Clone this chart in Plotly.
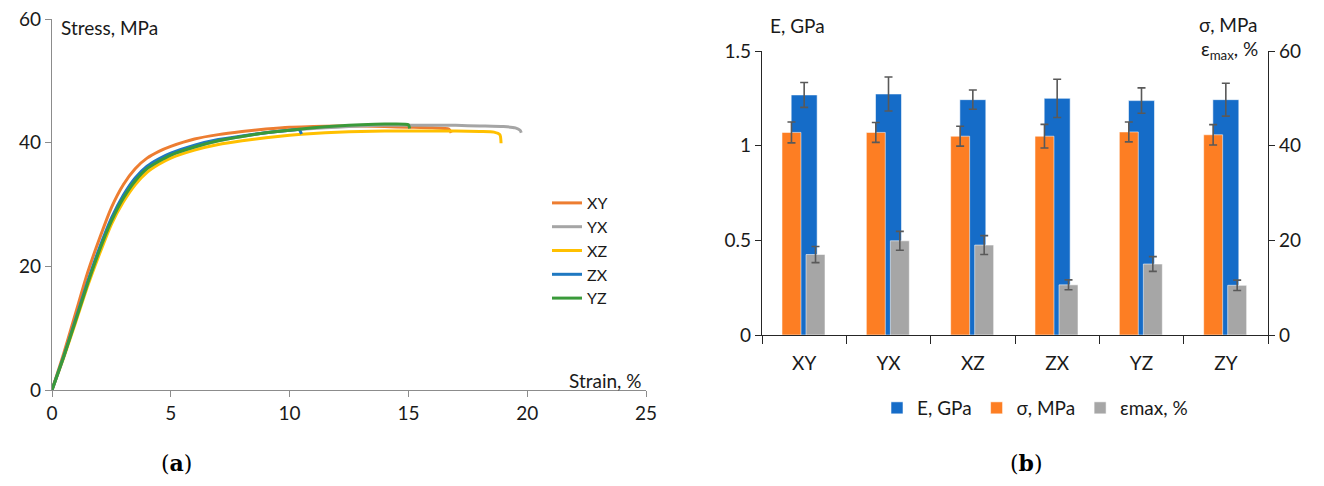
import plotly.graph_objects as go

# ---------------- data: panel (a) stress-strain curves ----------------
xy_strain = [0, 0.5, 1, 1.5, 2, 2.5, 3, 3.5, 4, 4.5, 5, 6, 7, 8, 9, 10, 11, 12, 13, 14, 15, 16, 16.7, 16.8]
xy_stress = [0, 6, 12.5, 19, 24.5, 29.5, 33.2, 35.8, 37.5, 38.6, 39.4, 40.6, 41.3, 41.8, 42.2, 42.5, 42.6, 42.7, 42.7, 42.6, 42.5, 42.4, 42.2, 41.6]

yx_strain = [0, 0.5, 1, 1.5, 2, 2.5, 3, 3.5, 4, 4.5, 5, 6, 7, 8, 9, 10, 11, 12, 13, 14, 15, 16, 17, 18, 19, 19.5, 19.7, 19.75]
yx_stress = [0, 5.5, 11.3, 17.2, 22.6, 27.3, 31, 33.8, 35.8, 37, 38, 39.3, 40.3, 41, 41.6, 42, 42.3, 42.5, 42.7, 42.8, 42.8, 42.8, 42.8, 42.7, 42.6, 42.4, 42.0, 41.6]

xz_strain = [0, 0.5, 1, 1.5, 2, 2.5, 3, 3.5, 4, 4.5, 5, 6, 7, 8, 9, 10, 11, 12, 13, 14, 15, 16, 17, 18, 18.6, 18.85, 18.9]
xz_stress = [0, 5.3, 11, 16.8, 22, 26.8, 30.4, 33.2, 35.2, 36.5, 37.5, 38.8, 39.7, 40.3, 40.8, 41.2, 41.5, 41.7, 41.8, 41.9, 41.9, 41.9, 41.9, 41.8, 41.7, 41.3, 39.9]

zx_strain = [0, 0.5, 1, 1.5, 2, 2.5, 3, 3.5, 4, 4.5, 5, 6, 7, 8, 9, 10, 10.4, 10.5]
zx_stress = [0, 5.5, 11.5, 17.5, 23, 27.8, 31.5, 34.3, 36.2, 37.4, 38.3, 39.6, 40.5, 41.1, 41.6, 42.0, 42.1, 41.4]

yz_strain = [0, 0.5, 1, 1.5, 2, 2.5, 3, 3.5, 4, 4.5, 5, 6, 7, 8, 9, 10, 11, 12, 13, 14, 15, 15.05]
yz_stress = [0, 5.5, 11.3, 17.2, 22.6, 27.3, 31, 33.8, 35.8, 37, 38, 39.3, 40.3, 41, 41.6, 42, 42.4, 42.7, 42.9, 43, 42.9, 42.3]

x_ticks_a = [0, 5, 10, 15, 20, 25]
y_ticks_a = [0, 20, 40, 60]

# ---------------- data: panel (b) bars ----------------
categories = ["XY", "YX", "XZ", "ZX", "YZ", "ZY"]
E_gpa = [1.268, 1.273, 1.243, 1.250, 1.238, 1.243]
E_err = [0.066, 0.090, 0.051, 0.101, 0.067, 0.087]
sigma_mpa = [42.8, 42.8, 42.0, 42.0, 42.9, 42.3]
sigma_err = [2.2, 2.1, 2.1, 2.5, 2.1, 2.15]
eps_max = [17.0, 19.9, 19.0, 10.6, 15.0, 10.5]
eps_err = [1.7, 2.0, 2.0, 1.05, 1.55, 1.1]

W, H = 1324, 486
FONT = "Lato"
TXT = "#1a1a1a"
FS = 19


def px(x):
    return x / W


def py(y):
    return (H - y) / H


fig = go.Figure()

curve_specs = [
    ("XY", xy_strain, xy_stress, "#ED7D31"),
    ("YX", yx_strain, yx_stress, "#A5A5A5"),
    ("XZ", xz_strain, xz_stress, "#FFC000"),
    ("ZX", zx_strain, zx_stress, "#1F78C1"),
    ("YZ", yz_strain, yz_stress, "#3A9A3A"),
]
for name, xs, ys, col in curve_specs:
    fig.add_trace(go.Scatter(x=xs, y=ys, name=name, mode="lines",
                             line=dict(color=col, width=3, shape="spline", smoothing=0.6),
                             xaxis="x", yaxis="y", legend="legend"))

err_style = dict(type="data", color="#595959", thickness=1.6, width=4)
edge = dict(width=1, color="rgba(255,255,255,0.55)")

fig.add_trace(go.Bar(x=categories, y=E_gpa, name="E, GPa", marker=dict(color="#156CC8", line=edge),
                     width=0.308, offset=-0.154,
                     error_y=dict(array=E_err, **err_style),
                     xaxis="x2", yaxis="y2", legend="legend2"))
fig.add_trace(go.Bar(x=categories, y=sigma_mpa, name="σ, MPa", marker=dict(color="#FD7E23", line=edge),
                     width=0.225, offset=-0.263,
                     error_y=dict(array=sigma_err, **err_style),
                     xaxis="x2", yaxis="y3", legend="legend2"))
fig.add_trace(go.Bar(x=categories, y=eps_max, name="εmax, %", marker=dict(color="#A6A6A6", line=edge),
                     width=0.225, offset=0.022,
                     error_y=dict(array=eps_err, **err_style),
                     xaxis="x2", yaxis="y3", legend="legend2"))

tickfont = dict(family=FONT, size=FS, color=TXT)
gray_axis = "#8C8C8C"
dark_axis = "#262626"

annotations = [
    dict(text="Stress, MPa", x=px(59), y=py(28), xanchor="left", yanchor="middle"),
    dict(text="Strain, %", x=px(643), y=py(380), xanchor="right", yanchor="middle"),
    dict(text="E, GPa", x=px(768), y=py(25), xanchor="left", yanchor="middle"),
    dict(text="σ, MPa", x=px(1260), y=py(24), xanchor="right", yanchor="middle"),
    dict(text="ε<sub>max</sub>, %", x=px(1260), y=py(50), xanchor="right", yanchor="middle"),
]
for a in annotations:
    a.update(xref="paper", yref="paper", showarrow=False, font=dict(family=FONT, size=FS, color=TXT))
for t, xc in (("(<b>a</b>)", 176), ("(<b>b</b>)", 1026)):
    annotations.append(dict(text=t, x=px(xc), y=py(463), xref="paper", yref="paper", showarrow=False,
                            xanchor="center", yanchor="middle",
                            font=dict(family="DejaVu Serif", size=22, color="#000000")))

fig.update_layout(
    width=W, height=H,
    margin=dict(l=0, r=0, t=0, b=0, autoexpand=False),
    paper_bgcolor="white", plot_bgcolor="rgba(0,0,0,0)",
    showlegend=True,
    barmode="overlay",
    font=dict(family=FONT, size=FS, color=TXT),
    xaxis=dict(domain=[px(52), px(646)], range=[0, 25], tickvals=x_ticks_a,
               showline=True, linecolor=gray_axis, linewidth=1.2, ticks="outside", ticklen=6,
               tickcolor=gray_axis, showgrid=False, zeroline=False, tickfont=tickfont,
               ticklabelstandoff=0, anchor="y", automargin=False),
    yaxis=dict(domain=[py(390), py(19)], range=[0, 60], tickvals=y_ticks_a,
               showline=True, linecolor=gray_axis, linewidth=1.2, ticks="outside", ticklen=6,
               tickcolor=gray_axis, showgrid=False, zeroline=False, tickfont=tickfont,
               anchor="x", automargin=False),
    xaxis2=dict(domain=[px(762), px(1268)], type="category", range=[-0.5, 5.5],
                showline=True, linecolor=dark_axis, linewidth=1.3, ticks="outside", ticklen=8,
                tickson="boundaries", tickcolor=dark_axis, showgrid=False, zeroline=False,
                tickfont=tickfont, ticklabelstandoff=11, anchor="y2", automargin=False),
    yaxis2=dict(domain=[py(335), py(51)], range=[0, 1.5], tickvals=[0, 0.5, 1, 1.5],
                ticktext=["0", "0.5", "1", "1.5"],
                showline=True, linecolor=dark_axis, linewidth=1.3, ticks="outside", ticklen=6,
                tickcolor=dark_axis, showgrid=False, zeroline=False, tickfont=tickfont, anchor="x2",
                automargin=False),
    yaxis3=dict(overlaying="y2", side="right", range=[0, 60], tickvals=[0, 20, 40, 60],
                showline=True, linecolor=dark_axis, linewidth=1.3, ticks="outside", ticklen=6,
                tickcolor=dark_axis, showgrid=False, zeroline=False, tickfont=tickfont, anchor="x2",
                automargin=False),
    legend=dict(x=px(547), y=py(186), xanchor="left", yanchor="top", orientation="v",
                font=dict(family=FONT, size=16, color=TXT), itemwidth=30,
                bgcolor="rgba(0,0,0,0)", tracegroupgap=0),
    legend2=dict(x=px(1035), y=py(408), xanchor="center", yanchor="middle", orientation="h",
                 font=dict(family=FONT, size=FS, color=TXT), itemwidth=30,
                 bgcolor="rgba(0,0,0,0)"),
    annotations=annotations,
)

fig.write_html("out.html")
